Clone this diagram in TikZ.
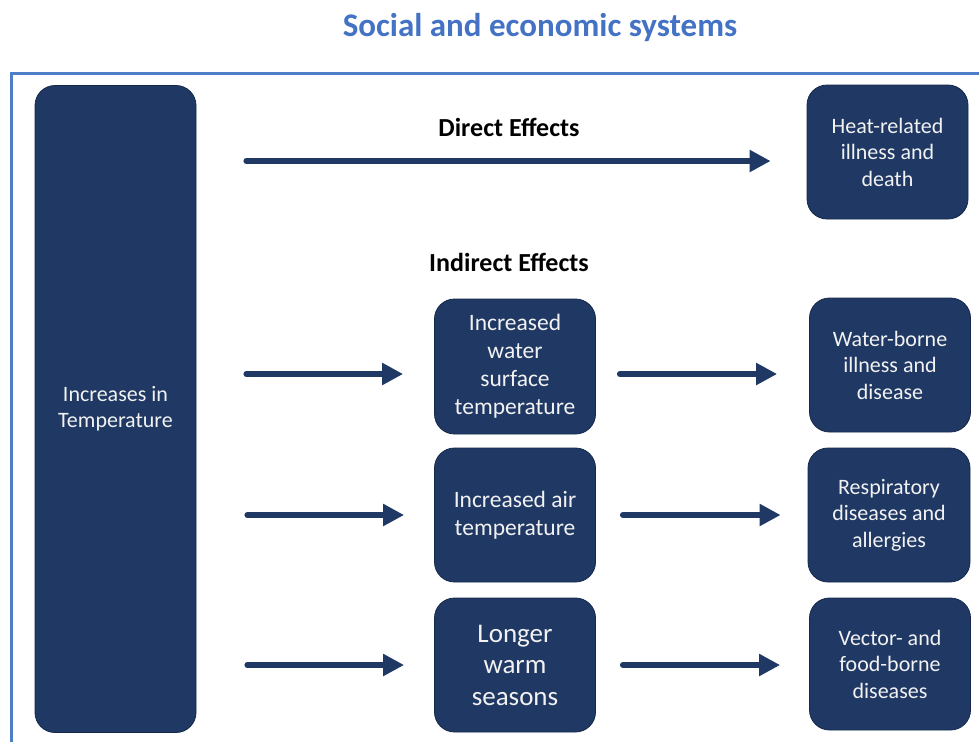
\documentclass[tikz,border=0pt]{standalone}
\usepackage{fontspec}
\setmainfont{Carlito}
\usetikzlibrary{arrows.meta}
\definecolor{navy}{HTML}{1F3864}
\definecolor{navyedge}{HTML}{15284A}
\definecolor{frameblue}{HTML}{4F7EC8}
\definecolor{titleblue}{HTML}{4472C4}
\definecolor{boxtext}{HTML}{F2F2F2}
\tikzset{
  box/.style={draw=navyedge, line width=0.8pt, fill=navy, rounded corners=20pt,
    text=boxtext, align=center, inner sep=0pt, font=\fontsize{22}{26.5}\selectfont},
  arr/.style={draw=navy, line width=6pt, line cap=round,
    -{Triangle[length=21pt,width=21pt]}},
  lbl/.style={font=\bfseries\fontsize{26}{30}\selectfont, text=black},
}
\begin{document}
\begin{tikzpicture}[x=1pt,y=-1pt]
\useasboundingbox (0,0) rectangle (979,742);
\draw[frameblue, line width=3pt] (11,742) -- (11,73) -- (979,73);
\node[font=\bfseries\fontsize{33}{38}\selectfont, text=titleblue] (title) at (540,28) {Social and economic systems};

\node[box, minimum width=161pt, minimum height=647pt, font=\fontsize{22}{26}\selectfont] (big) at (115.5,409) {Increases in\\Temperature};

\node[lbl] (direct) at (509,127) {Direct Effects};
\node[lbl] (indirect) at (509,262) {Indirect Effects};

\node[box, minimum width=161pt, minimum height=134pt] (heat) at (887.5,152) {Heat-related\\illness and\\death};

\node[box, minimum width=161pt, minimum height=135pt, font=\fontsize{23.5}{28}\selectfont] (m1) at (515,366.5) {Increased\\water\\surface\\temperature};
\node[box, minimum width=161pt, minimum height=134pt, font=\fontsize{23.5}{28}\selectfont] (m2) at (515,515) {Increased air\\temperature};
\node[box, minimum width=161pt, minimum height=134pt, font=\fontsize{27}{31.5}\selectfont] (m3) at (515,665) {Longer\\warm\\seasons};

\node[box, minimum width=161pt, minimum height=134pt] (r1) at (890,365) {Water-borne\\illness and\\disease};
\node[box, minimum width=162pt, minimum height=134pt] (r2) at (889,515) {Respiratory\\diseases and\\allergies};
\node[box, minimum width=161pt, minimum height=132pt] (r3) at (890,664) {Vector- and\\food-borne\\diseases};

\draw[arr, shorten <=50pt, shorten >=36pt] ([yshift=-9pt]big.east |- heat.west) -- ([yshift=-9pt]heat.west);
\draw[arr, shorten <=50pt, shorten >=31pt] ([yshift=-7.5pt]big.east |- m1.west) -- ([yshift=-7.5pt]m1.west);
\draw[arr, shorten <=51pt, shorten >=30pt] (big.east |- m2.west) -- (m2.west);
\draw[arr, shorten <=51pt, shorten >=30pt] (big.east |- m3.west) -- (m3.west);
\draw[arr, shorten <=24pt, shorten >=32pt] ([yshift=-7.5pt]m1.east) -- ([yshift=-7.5pt]m1.east -| r1.west);
\draw[arr, shorten <=27pt, shorten >=27pt] (m2.east) -- (m2.east -| r2.west);
\draw[arr, shorten <=27pt, shorten >=29pt] (m3.east) -- (m3.east -| r3.west);
\end{tikzpicture}
\end{document}
